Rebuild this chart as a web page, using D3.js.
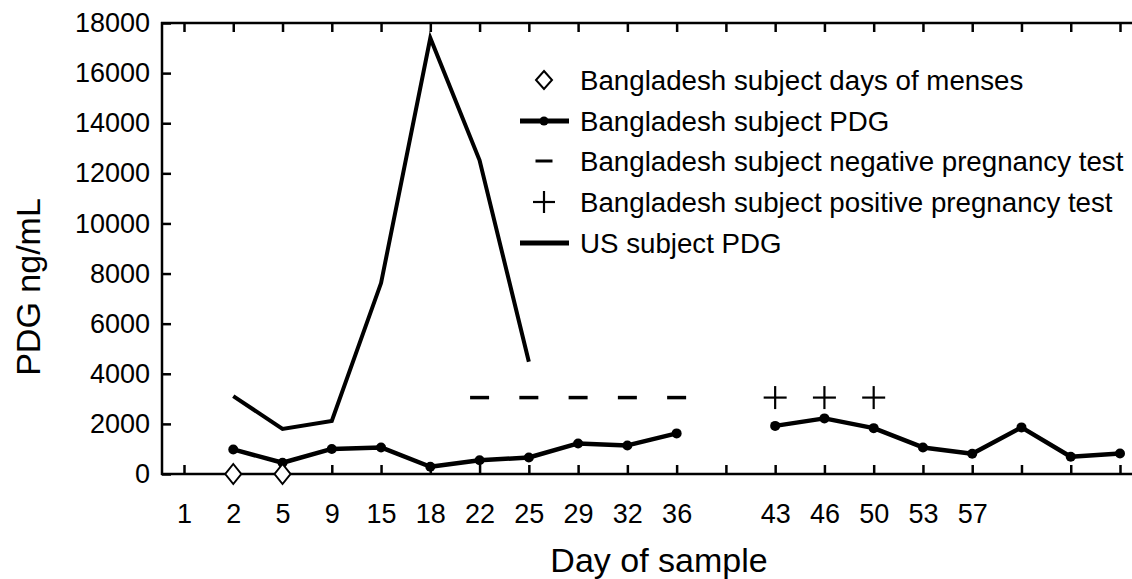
<!DOCTYPE html>
<html>
<head>
<meta charset="utf-8">
<script src="https://cdn.jsdelivr.net/npm/d3@7"></script>
<style>
  html, body { margin: 0; padding: 0; background: #fff; }
  svg text { font-family: "Liberation Sans", Arial, Helvetica, sans-serif; fill: #000; }
</style>
</head>
<body>
<svg id="chart" width="1132" height="579"></svg>
<script>
// Day labels for each sample position (blank = unlabeled position)
const dayLabels = ["1","2","5","9","15","18","22","25","29","32","36","","43","46","50","53","57","","",""];
// Bangladesh subject PDG (ng/mL), null = no sample
const bangladeshPDG = [null, 980, 450, 1000, 1060, 290, 550, 660, 1220, 1140, 1620, null, 1920, 2220, 1830, 1060, 810, 1860, 690, 820];
// US subject PDG (ng/mL)
const usPDG = [null, 3110, 1800, 2120, 7620, 17400, 12520, 4480, null, null, null, null, null, null, null, null, null, null, null, null];
// Days of menses (position indices), plotted at 0
const mensesIdx = [1, 2];
const mensesValue = 0;
// Negative pregnancy tests (position indices)
const negativeIdx = [6, 7, 8, 9, 10];
const negativeValue = 3050;
// Positive pregnancy tests (position indices)
const positiveIdx = [12, 13, 14];
const positiveValue = 3050;
// Y ticks
const yTicks = [0, 2000, 4000, 6000, 8000, 10000, 12000, 14000, 16000, 18000];
// Legend entries
const legendLabels = [
  "Bangladesh subject days of menses",
  "Bangladesh subject PDG",
  "Bangladesh subject negative pregnancy test",
  "Bangladesh subject positive pregnancy test",
  "US subject PDG"
];

(function () {
const svg = d3.select("#chart");
const mLeft = 162, mRight = 1132, mTop = 23, mBottom = 474;

const x = d3.scalePoint().domain(d3.range(dayLabels.length)).range([184, 1120]);
const y = d3.scaleLinear().domain([0, 18000]).range([mBottom, mTop]);

// Frame lines
const frame = svg.append("g").attr("stroke", "#000").attr("stroke-width", 2.5);
frame.append("line").attr("x1", mLeft).attr("x2", mLeft).attr("y1", mTop - 1).attr("y2", mBottom + 1);
frame.append("line").attr("x1", mLeft - 1).attr("x2", mRight).attr("y1", mBottom).attr("y2", mBottom);
frame.append("line").attr("x1", mLeft - 1).attr("x2", mRight).attr("y1", mTop).attr("y2", mTop);

// Bottom axis
const xAxis = d3.axisBottom(x).tickSizeInner(-9).tickSizeOuter(0).tickPadding(30)
  .tickFormat(i => dayLabels[i]);
const gx = svg.append("g").attr("transform", `translate(0,${mBottom})`).call(xAxis);
gx.select(".domain").remove();
gx.selectAll(".tick line").attr("stroke", "#000").attr("stroke-width", 2.5);
gx.selectAll(".tick text").attr("font-size", 27).attr("fill", "#000");

// Top axis (ticks only)
const xTop = d3.axisTop(x).tickSizeInner(-9).tickSizeOuter(0).tickFormat("");
const gt = svg.append("g").attr("transform", `translate(0,${mTop})`).call(xTop);
gt.select(".domain").remove();
gt.selectAll(".tick line").attr("stroke", "#000").attr("stroke-width", 2.5);

// Left axis
const yAxis = d3.axisLeft(y).tickValues(yTicks).tickSizeInner(-9).tickSizeOuter(0).tickPadding(12)
  .tickFormat(d3.format("d"));
const gy = svg.append("g").attr("transform", `translate(${mLeft},0)`).call(yAxis);
gy.select(".domain").remove();
gy.selectAll(".tick line").attr("stroke", "#000").attr("stroke-width", 2.5);
gy.selectAll(".tick text").attr("font-size", 27).attr("fill", "#000");

// Axis titles
svg.append("text").attr("x", 659).attr("y", 572).attr("text-anchor", "middle")
  .attr("font-size", 34).text("Day of sample");
svg.append("text").attr("transform", "translate(40,287) rotate(-90)").attr("text-anchor", "middle")
  .attr("font-size", 34).text("PDG ng/mL");

// US PDG line
const line = d3.line().defined(d => d.v != null).x(d => x(d.i)).y(d => y(d.v));
const usData = usPDG.map((v, i) => ({i, v}));
svg.append("path").datum(usData).attr("d", line)
  .attr("fill", "none").attr("stroke", "#000").attr("stroke-width", 4).attr("stroke-linejoin", "miter");

// Bangladesh PDG line + dots
const bdData = bangladeshPDG.map((v, i) => ({i, v}));
svg.append("path").datum(bdData).attr("d", line)
  .attr("fill", "none").attr("stroke", "#000").attr("stroke-width", 4.5).attr("stroke-linejoin", "round");
svg.selectAll(".bddot").data(bdData.filter(d => d.v != null)).join("circle")
  .attr("class", "bddot").attr("cx", d => x(d.i)).attr("cy", d => y(d.v)).attr("r", 5).attr("fill", "#000");

// Diamonds (menses)
const diamond = (w, h) => `M0,${-h/2}L${w/2},0L0,${h/2}L${-w/2},0Z`;
svg.selectAll(".menses").data(mensesIdx).join("path").attr("class", "menses")
  .attr("transform", i => `translate(${x(i)},${y(mensesValue)})`)
  .attr("d", diamond(16, 20)).attr("fill", "#fff").attr("stroke", "#000").attr("stroke-width", 2);

// Negative test dashes
svg.selectAll(".neg").data(negativeIdx).join("line").attr("class", "neg")
  .attr("x1", i => x(i) - 9.5).attr("x2", i => x(i) + 9.5)
  .attr("y1", y(negativeValue)).attr("y2", y(negativeValue))
  .attr("stroke", "#000").attr("stroke-width", 3.5);

// Positive test pluses
const plus = svg.selectAll(".pos").data(positiveIdx).join("g").attr("class", "pos")
  .attr("transform", i => `translate(${x(i)},${y(positiveValue)})`);
plus.append("line").attr("x1", -11.5).attr("x2", 11.5).attr("stroke", "#000").attr("stroke-width", 2.2);
plus.append("line").attr("y1", -11.5).attr("y2", 11.5).attr("stroke", "#000").attr("stroke-width", 2.2);

// Legend
const lg = svg.append("g");
const rowY = [80, 121, 161, 202, 243];
const symX = 544;
legendLabels.forEach((t, k) => {
  lg.append("text").attr("x", 580).attr("y", rowY[k] + 9.5).attr("font-size", 27.7).text(t);
});
lg.append("path").attr("transform", `translate(${symX},${rowY[0]})`).attr("d", diamond(16, 18))
  .attr("fill", "#fff").attr("stroke", "#000").attr("stroke-width", 2);
lg.append("line").attr("x1", 520).attr("x2", 569).attr("y1", rowY[1]).attr("y2", rowY[1])
  .attr("stroke", "#000").attr("stroke-width", 5);
lg.append("circle").attr("cx", symX).attr("cy", rowY[1]).attr("r", 4.5).attr("fill", "#000");
lg.append("line").attr("x1", symX - 8.5).attr("x2", symX + 8.5).attr("y1", rowY[2]).attr("y2", rowY[2])
  .attr("stroke", "#000").attr("stroke-width", 3);
lg.append("line").attr("x1", symX - 11).attr("x2", symX + 11).attr("y1", rowY[3]).attr("y2", rowY[3])
  .attr("stroke", "#000").attr("stroke-width", 2.2);
lg.append("line").attr("x1", symX).attr("x2", symX).attr("y1", rowY[3] - 11).attr("y2", rowY[3] + 11)
  .attr("stroke", "#000").attr("stroke-width", 2.2);
lg.append("line").attr("x1", 520).attr("x2", 569).attr("y1", rowY[4]).attr("y2", rowY[4])
  .attr("stroke", "#000").attr("stroke-width", 5);
})();
</script>
</body>
</html>
